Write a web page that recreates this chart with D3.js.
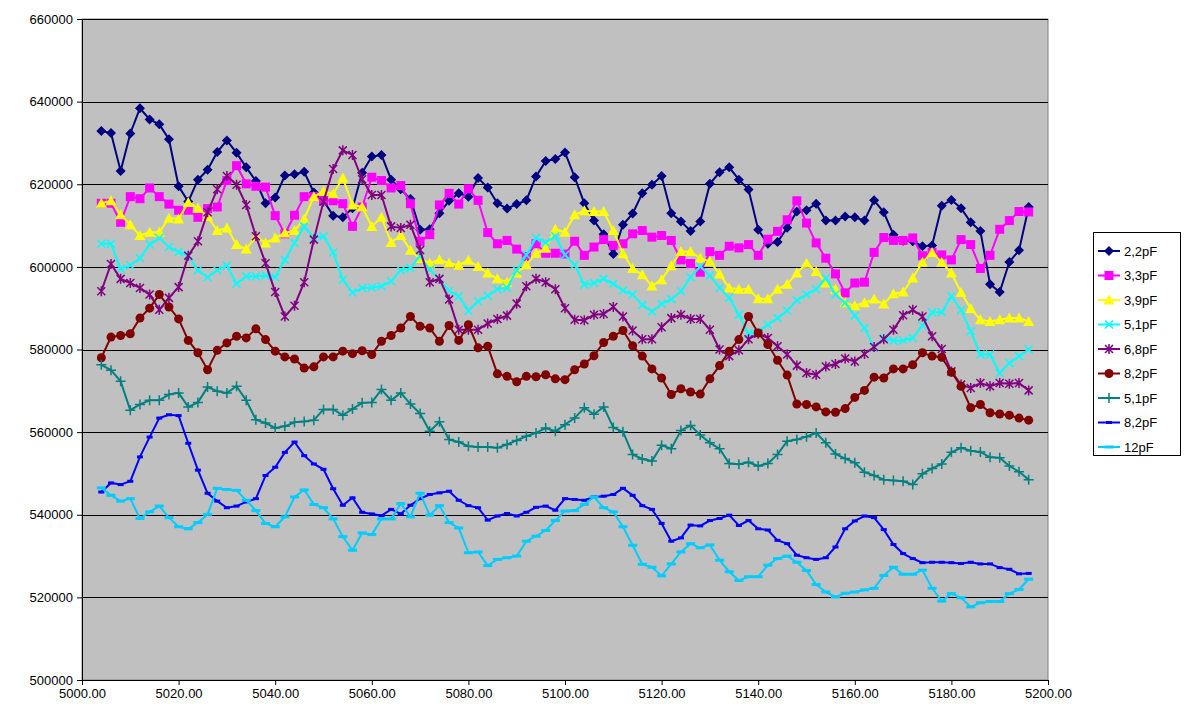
<!DOCTYPE html>
<meta charset="utf-8">
<html>
<script src="https://d3js.org/d3.v7.min.js"></script>
<style>
    body { margin: 0; background: #ffffff; }
    text { font-family: Arial, "Liberation Sans", sans-serif; font-size: 13px; fill: #000; }
</style>

<body>
<div id="chart"></div>
<script>

// x values (frequency)
var freq = [5004, 5006, 5008, 5010, 5012, 5014, 5016, 5018, 5020, 5022,
    5024, 5026, 5028, 5030, 5032, 5034, 5036, 5038, 5040, 5042,
    5044, 5046, 5048, 5050, 5052, 5054, 5056, 5058, 5060, 5062,
    5064, 5066, 5068, 5070, 5072, 5074, 5076, 5078, 5080, 5082,
    5084, 5086, 5088, 5090, 5092, 5094, 5096, 5098, 5100, 5102,
    5104, 5106, 5108, 5110, 5112, 5114, 5116, 5118, 5120, 5122,
    5124, 5126, 5128, 5130, 5132, 5134, 5136, 5138, 5140, 5142,
    5144, 5146, 5148, 5150, 5152, 5154, 5156, 5158, 5160, 5162,
    5164, 5166, 5168, 5170, 5172, 5174, 5176, 5178, 5180, 5182,
    5184, 5186, 5188, 5190, 5192, 5194, 5196];

var c2_2 = [632900, 632400, 623200, 632300, 638400, 635700, 634500, 630900, 619500, 615800,
    621100, 623500, 627800, 630600, 627600, 624100, 620800, 615400, 616800, 622100,
    622400, 623000, 618000, 616000, 612400, 612000, 614200, 622800, 626700, 627100,
    621100, 618800, 616400, 609000, 609100, 613000, 616000, 617800, 617000, 621500,
    619200, 615400, 614100, 615200, 616100, 621900, 625600, 626100, 627700, 621700,
    615400, 611200, 607900, 603100, 610200, 612900, 617800, 619900, 622000, 613000,
    611000, 608700, 611000, 620100, 622900, 624100, 621100, 618700, 609000, 605600,
    606000, 609500, 613400, 613700, 615300, 611200, 611200, 612200, 612000, 611200,
    616100, 613200, 607800, 606300, 606200, 605000, 605200, 614800, 616200, 614200,
    610800, 608700, 595800, 593900, 601200, 604000, 614500];

var c3_3 = [615400, 615400, 610800, 617000, 616500, 619100, 617000, 615200, 613700, 613700,
    612000, 614100, 614500, 620900, 624500, 620100, 619500, 619300, 612400, 608000,
    612500, 617000, 617000, 616100, 616000, 615300, 609800, 614500, 621700, 620900,
    619100, 619700, 615300, 606200, 607800, 615000, 617800, 615200, 618900, 616100,
    608300, 605600, 606400, 604300, 602500, 605600, 603300, 603300, 603100, 606200,
    602800, 604800, 606600, 605200, 605600, 608000, 608800, 607200, 607600, 606400,
    601700, 600800, 598700, 603700, 602800, 605000, 604600, 605400, 602800, 606700,
    608600, 611400, 616000, 610600, 605800, 602100, 598300, 593700, 596100, 596300,
    603500, 607100, 606400, 606400, 607000, 602700, 603500, 602900, 601700, 606600,
    605400, 599600, 602800, 609100, 611200, 613400, 613300];

var c3_9 = [615400, 616000, 612600, 610200, 607600, 608400, 608400, 611800, 611600, 615600,
    614200, 612200, 608800, 609400, 605400, 604300, 607400, 605800, 607000, 608200,
    608800, 611600, 617000, 618300, 617700, 621500, 615000, 614500, 609800, 612000,
    605900, 607600, 604000, 602000, 600900, 601700, 600900, 600400, 601600, 600100,
    598500, 597100, 596300, 598500, 600500, 603300, 604500, 609100, 608400, 612600,
    613600, 613400, 613400, 608800, 603200, 599600, 598100, 595400, 596900, 600300,
    603700, 603700, 602100, 601300, 598300, 594900, 594600, 594600, 592300, 592300,
    594600, 595800, 598500, 600900, 598900, 596100, 594600, 591300, 590600, 591300,
    592200, 591000, 593500, 593900, 597300, 601100, 603500, 601100, 598500, 593800,
    589900, 587200, 586800, 587200, 587600, 587600, 586800];

var c5_1 = [605600, 605600, 599500, 600400, 602100, 605400, 607000, 604800, 603600, 602800,
    599200, 597500, 599200, 600300, 595900, 597700, 597700, 597900, 597500, 601700,
    605800, 609800, 607000, 607400, 603500, 596900, 593800, 594900, 595000, 595300,
    596500, 599200, 599700, 602700, 599300, 597100, 594200, 592900, 589400, 591700,
    593000, 594600, 594900, 599200, 602900, 607000, 605900, 607400, 602900, 600500,
    595700, 596100, 597100, 595900, 594300, 593300, 590800, 589200, 591000, 592200,
    594100, 597500, 600100, 597900, 594900, 592500, 588400, 583800, 584400, 586000,
    587600, 589400, 591900, 593300, 594600, 597300, 593300, 591300, 588200, 585200,
    580500, 582800, 582100, 582200, 582800, 585800, 589000, 589000, 592900, 589500,
    584400, 578800, 578800, 574300, 576700, 578400, 580000];

var c6_8 = [594100, 600700, 597100, 596100, 594900, 593300, 589600, 592500, 595100, 602700,
    606200, 613200, 618800, 622000, 619900, 615000, 607400, 600900, 593900, 588000,
    590600, 596300, 606600, 615800, 623700, 628200, 627100, 621200, 617400, 617400,
    609800, 609400, 610200, 604100, 596300, 597100, 592100, 584800, 584800, 584800,
    586300, 587400, 588200, 591100, 595300, 597100, 596300, 594600, 590000, 587200,
    587100, 588400, 588600, 590300, 588000, 584600, 582500, 582500, 585400, 587600,
    588400, 587400, 587400, 584800, 580000, 578400, 579800, 582500, 583800, 582800,
    580800, 578800, 576100, 574300, 573900, 575900, 576500, 577800, 577100, 578900,
    580600, 582500, 584800, 588300, 589600, 588000, 583200, 580100, 574700, 571500,
    570700, 571900, 571100, 571900, 571700, 571900, 570100];

var c8_2 = [578000, 583000, 583400, 583800, 587600, 590000, 593300, 590300, 587400, 582200,
    579200, 575100, 579800, 581600, 583200, 582800, 585000, 582400, 579600, 578200,
    577700, 575500, 575800, 578200, 578200, 579600, 579000, 579700, 578800, 582000,
    583400, 585200, 588000, 585600, 585200, 582000, 585800, 582200, 586000, 580400,
    580800, 574100, 573500, 572200, 573500, 573400, 573900, 572900, 572700, 575100,
    576500, 578500, 581700, 583200, 584600, 580900, 578400, 575300, 573100, 569100,
    570500, 569700, 569200, 572900, 576100, 579600, 582400, 588000, 584000, 581200,
    577400, 573800, 566800, 566700, 566100, 564900, 564800, 565700, 568400, 570100,
    573300, 573100, 575300, 575300, 576300, 579200, 578400, 578100, 574500, 571100,
    565900, 566700, 564700, 564400, 564100, 563400, 562900];

var c5_1b = [576300, 575000, 572300, 565300, 566700, 567700, 567700, 569100, 569500, 566100,
    567200, 570900, 569900, 569500, 571100, 567700, 563000, 562200, 561000, 561400,
    562400, 562600, 562900, 565500, 565500, 564100, 565600, 567100, 567200, 570300,
    567700, 569500, 566800, 564500, 560200, 562500, 558200, 557600, 556600, 556400,
    556400, 556200, 557000, 558000, 559000, 559800, 561000, 560200, 561800, 563400,
    565900, 564300, 566100, 561100, 560100, 554600, 553500, 553000, 556800, 556000,
    560400, 561600, 559300, 557400, 556000, 552400, 552200, 552700, 551800, 552400,
    554600, 557800, 558200, 558900, 559800, 557400, 554700, 553600, 552600, 550300,
    549500, 548500, 548300, 548100, 547300, 549900, 551200, 552300, 555100, 556200,
    555500, 555200, 553900, 553800, 551800, 550400, 548500];

var c8_2b = [545500, 547700, 547300, 548100, 554000, 558800, 563400, 564200, 564000, 557300,
    550800, 545200, 543300, 541700, 542100, 543100, 543900, 549500, 551500, 555100,
    557600, 554300, 552300, 551000, 546300, 542300, 544100, 540600, 540200, 539800,
    541300, 540200, 542300, 543900, 544900, 545300, 545700, 543500, 542200, 541700,
    538700, 539700, 540300, 539700, 540600, 541800, 542100, 541100, 543900, 543700,
    543500, 544300, 544500, 544900, 546400, 544700, 542200, 541300, 537900, 533600,
    534400, 537500, 537300, 538600, 539100, 539900, 537400, 538600, 536600, 536300,
    533800, 533000, 530200, 529600, 529200, 529600, 532200, 536600, 538500, 539700,
    539300, 536400, 532800, 530600, 529400, 528400, 528500, 528500, 528400, 528200,
    528500, 528100, 528100, 527200, 526800, 525700, 525800];

var c12 = [546500, 544700, 543300, 543900, 539100, 540700, 542100, 539300, 537100, 536600,
    538100, 540100, 546400, 546100, 545900, 543500, 541000, 537900, 537100, 539500,
    544300, 546000, 542500, 541700, 539000, 534700, 531400, 535600, 535200, 539000,
    539000, 542700, 539500, 545200, 539900, 542200, 538100, 536800, 530800, 531000,
    527700, 529200, 529600, 530000, 533600, 534800, 536200, 538600, 540900, 541000,
    542500, 544300, 541700, 540700, 537100, 532600, 528000, 527300, 525200, 528100,
    531000, 533000, 532000, 532700, 529000, 526200, 524100, 525000, 525000, 527800,
    529400, 530000, 528500, 526500, 523100, 521300, 520100, 521000, 521300, 521800,
    522200, 525300, 527300, 525600, 525600, 526600, 522200, 519100, 520900, 519900,
    517700, 518700, 519000, 519000, 520900, 521900, 524400];

var seriesNames = ["2,2pF", "3,3pF", "3,9pF", "5,1pF", "6,8pF", "8,2pF", "5,1pF", "8,2pF", "12pF"];
var seriesValues = [c2_2, c3_3, c3_9, c5_1, c6_8, c8_2, c5_1b, c8_2b, c12];
var seriesColors = ["#000080", "#FF00FF", "#FFFF00", "#00FFFF", "#800080", "#800000", "#008080", "#0000FF", "#00CCFF"];
var seriesMarkers = ["diamond", "square", "triangle", "cross", "star", "circle", "plus", "dash", "longdash"];

var yTicks = [500000, 520000, 540000, 560000, 580000, 600000, 620000, 640000, 660000];
var xTicks = [5000, 5020, 5040, 5060, 5080, 5100, 5120, 5140, 5160, 5180, 5200];

// Plot area
var W = 1188, H = 713;
var plot = { left: 82, right: 1048, top: 19, bottom: 680 };

var svg = d3.select("#chart")
    .append("svg")
    .attr("width", W)
    .attr("height", H);

svg.append("rect")
    .attr("width", W).attr("height", H)
    .attr("fill", "#ffffff");

var x = d3.scaleLinear().domain([5000, 5200]).range([plot.left, plot.right]);
var y = d3.scaleLinear().domain([500000, 660000]).range([plot.bottom, plot.top]);

svg.append("rect")
    .attr("x", plot.left).attr("y", plot.top)
    .attr("width", plot.right - plot.left)
    .attr("height", plot.bottom - plot.top)
    .attr("fill", "#C0C0C0")
    .attr("stroke", "#808080")
    .attr("stroke-width", 1);

// gridlines
svg.selectAll(".grid")
    .data(yTicks.slice(1))
    .enter().append("line")
    .attr("x1", plot.left).attr("x2", plot.right)
    .attr("y1", function (d) { return Math.round(y(d)) + 0.5; })
    .attr("y2", function (d) { return Math.round(y(d)) + 0.5; })
    .attr("stroke", "#000")
    .attr("stroke-width", 1);

// Y axis
var yAxis = svg.append("g")
    .attr("transform", "translate(" + plot.left + ",0)")
    .call(d3.axisLeft(y).tickValues(yTicks).tickSize(5).tickPadding(4).tickFormat(d3.format("d")));
yAxis.select(".domain").attr("stroke", "#000");
yAxis.selectAll("text").style("font-size", "13px").style("font-family", "Arial, 'Liberation Sans', sans-serif");

// X axis
var xAxis = svg.append("g")
    .attr("transform", "translate(0," + plot.bottom + ")")
    .call(d3.axisBottom(x).tickValues(xTicks).tickSize(5).tickPadding(4).tickFormat(d3.format(".2f")));
xAxis.select(".domain").attr("stroke", "#000");
xAxis.selectAll("text").style("font-size", "13px").style("font-family", "Arial, 'Liberation Sans', sans-serif");

// marker drawing
function drawMarker(g, type, color) {
    if (type == "diamond") {
        g.append("path").attr("d", "M0,-5L5,0L0,5L-5,0Z").attr("fill", color);
    } else if (type == "square") {
        g.append("rect").attr("x", -4.5).attr("y", -4.5).attr("width", 9).attr("height", 9).attr("fill", color);
    } else if (type == "triangle") {
        g.append("path").attr("d", "M0,-5.5L5.5,4.5L-5.5,4.5Z").attr("fill", color);
    } else if (type == "cross") {
        g.append("path").attr("d", "M-4,-4L4,4M-4,4L4,-4").attr("stroke", color).attr("stroke-width", 1.5).attr("fill", "none");
    } else if (type == "star") {
        g.append("path").attr("d", "M-4,-4L4,4M-4,4L4,-4M0,-5L0,5").attr("stroke", color).attr("stroke-width", 1.5).attr("fill", "none");
    } else if (type == "circle") {
        g.append("circle").attr("r", 4.5).attr("fill", color);
    } else if (type == "plus") {
        g.append("path").attr("d", "M-5,0L5,0M0,-5L0,5").attr("stroke", color).attr("stroke-width", 1.5).attr("fill", "none");
    } else if (type == "dash") {
        g.append("rect").attr("x", -3).attr("y", -1.5).attr("width", 6).attr("height", 3).attr("fill", color);
    } else if (type == "longdash") {
        g.append("rect").attr("x", -4.5).attr("y", -1.5).attr("width", 9).attr("height", 3).attr("fill", color);
    }
}

var line = d3.line()
    .x(function (d) { return x(d[0]); })
    .y(function (d) { return y(d[1]); });

seriesValues.forEach(function (vals, s) {
    var pts = freq.map(function (f, i) { return [f, vals[i]]; });
    svg.append("path")
        .datum(pts)
        .attr("fill", "none")
        .attr("stroke", seriesColors[s])
        .attr("stroke-width", 2)
        .attr("d", line);
    pts.forEach(function (p) {
        var g = svg.append("g").attr("transform", "translate(" + x(p[0]) + "," + y(p[1]) + ")");
        drawMarker(g, seriesMarkers[s], seriesColors[s]);
    });
});

// Legend
var legend = svg.append("g").attr("transform", "translate(1093,232)");
legend.append("rect")
    .attr("x", 0.5).attr("y", 0.5)
    .attr("width", 87).attr("height", 223)
    .attr("fill", "#fff")
    .attr("stroke", "#000");

seriesNames.forEach(function (name, i) {
    var cy = 19 + i * 24.5;
    legend.append("line")
        .attr("x1", 5).attr("x2", 27)
        .attr("y1", cy).attr("y2", cy)
        .attr("stroke", seriesColors[i])
        .attr("stroke-width", 2);
    var g = legend.append("g").attr("transform", "translate(16," + cy + ")");
    drawMarker(g, seriesMarkers[i], seriesColors[i]);
    legend.append("text")
        .attr("x", 31).attr("y", cy)
        .attr("dy", "0.35em")
        .text(name);
});

</script>
</body>

</html>
